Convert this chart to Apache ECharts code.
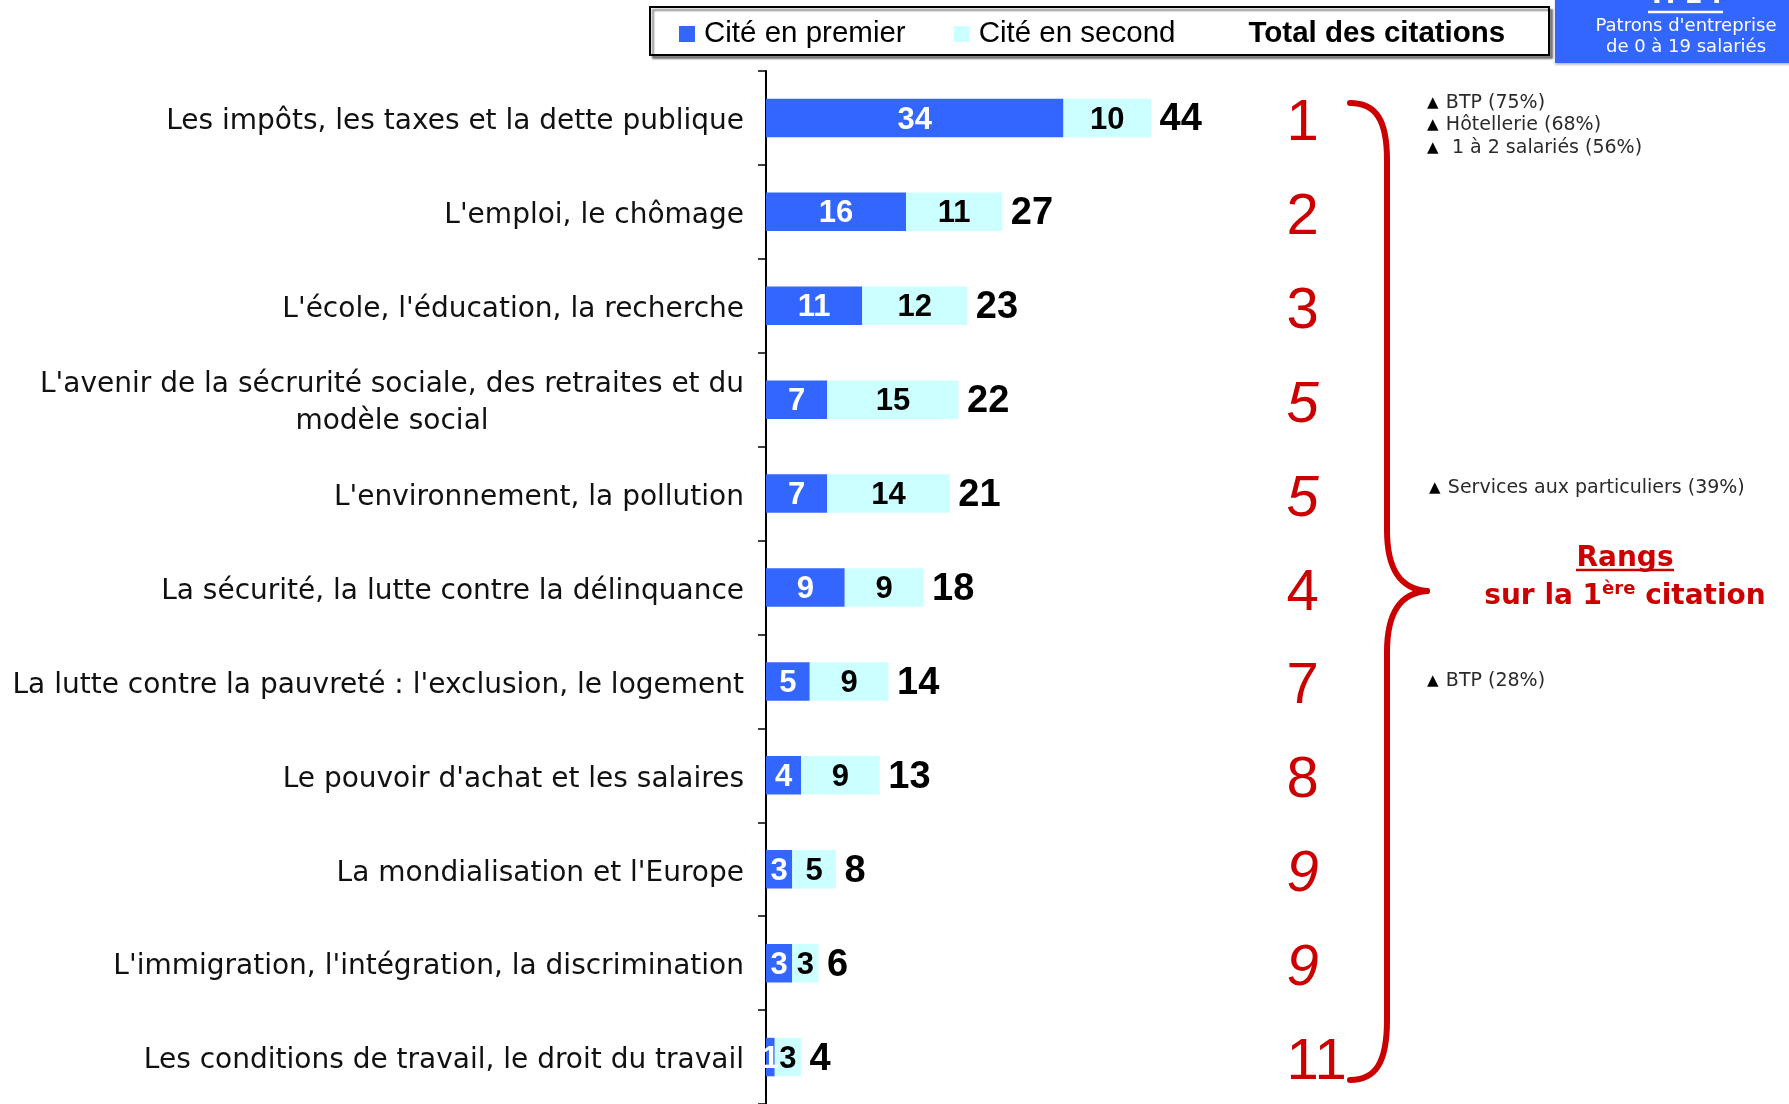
<!DOCTYPE html>
<html>
<head>
<meta charset="utf-8">
<script src="https://cdn.jsdelivr.net/npm/echarts@6/dist/echarts.min.js"></script>
<style>
html,body{margin:0;padding:0;background:#fff;}
#chart{width:1789px;height:1104px;}
</style>
</head>
<body>
<div id="chart"></div>
<script>
const categories = [
  "Les impôts, les taxes et la dette publique",
  "L'emploi, le chômage",
  "L'école, l'éducation, la recherche",
  "L'avenir de la sécrurité sociale, des retraites et du\nmodèle social",
  "L'environnement, la pollution",
  "La sécurité, la lutte contre la délinquance",
  "La lutte contre la pauvreté : l'exclusion, le logement",
  "Le pouvoir d'achat et les salaires",
  "La mondialisation et l'Europe",
  "L'immigration, l'intégration, la discrimination",
  "Les conditions de travail, le droit du travail"
];
const citedFirst  = [34, 16, 11, 7, 7, 9, 5, 4, 3, 3, 1];
const citedSecond = [10, 11, 12, 15, 14, 9, 9, 9, 5, 3, 3];
const totals      = [44, 27, 23, 22, 21, 18, 14, 13, 8, 6, 4];
const ranks       = [1, 2, 3, 5, 5, 4, 7, 8, 9, 9, 11];
const rankItalic  = [false, false, false, true, true, false, false, false, true, true, false];

const legendNames = ["Cité en premier", "Cité en second", "Total des citations"];
const annotTop    = ["BTP (75%)", "Hôtellerie (68%)", " 1 à 2 salariés (56%)"];
const annotMid    = ["Services aux particuliers (39%)"];
const annotLow    = ["BTP (28%)"];
const boxTitle    = "TPE :";
const boxLines    = ["Patrons d'entreprise", "de 0 à 19 salariés"];

const BLUE = '#3366FF', CYAN = '#CCFFFF', RED = '#CC0000';

const chart = echarts.init(document.getElementById('chart'), null, {renderer: 'canvas'});

function annot(lines, x, y0, step) {
  return lines.map((t, i) => ({
    type: 'text', x: x, y: y0 + i * step, z: 10,
    style: {
      text: '{t|▲} {s|' + t + '}',
      textVerticalAlign: 'middle',
      rich: {
        t: {fontSize: 15, fontFamily: 'DejaVu Sans', fill: '#000'},
        s: {fontSize: 19, fontFamily: 'DejaVu Sans', fill: '#2a2a2a', padding: [0, 0, 0, 4]}
      }
    }
  }));
}

const braceStyle = {fill: 'none', stroke: RED, lineWidth: 6, lineCap: 'round'};
const brace = [
  {type: 'bezierCurve', shape: {x1: 1350, y1: 103, cpx1: 1376, cpy1: 103, cpx2: 1387, cpy2: 120, x2: 1387, y2: 160}},
  {type: 'line', shape: {x1: 1387, y1: 160, x2: 1387, y2: 530}},
  {type: 'bezierCurve', shape: {x1: 1387, y1: 530, cpx1: 1387, cpy1: 572, cpx2: 1402, cpy2: 589, x2: 1427, y2: 591}},
  {type: 'bezierCurve', shape: {x1: 1427, y1: 591, cpx1: 1402, cpy1: 593, cpx2: 1387, cpy2: 610, x2: 1387, y2: 652}},
  {type: 'line', shape: {x1: 1387, y1: 652, x2: 1387, y2: 1020}},
  {type: 'bezierCurve', shape: {x1: 1387, y1: 1020, cpx1: 1387, cpy1: 1062, cpx2: 1376, cpy2: 1080, x2: 1350, y2: 1080}}
].map(e => Object.assign(e, {z: 5, style: braceStyle}));

const option = {
  animation: false,
  backgroundColor: '#fff',
  grid: {left: 766, top: 71, width: 507.5, height: 1036.5, containLabel: false},
  legend: {
    left: 679, top: 19, itemGap: 48, itemWidth: 16, itemHeight: 16, padding: 0,
    selectedMode: false,
    textStyle: {fontFamily: 'Liberation Sans', fontSize: 29.5, color: '#000', padding: [0, 0, 0, 4]},
    data: [
      {name: legendNames[0], icon: 'rect'},
      {name: legendNames[1], icon: 'rect'},
      {name: legendNames[2], icon: 'rect', itemStyle: {color: 'rgba(0,0,0,0)'}, textStyle: {fontWeight: 'bold'}}
    ]
  },
  xAxis: {type: 'value', min: 0, max: 58, show: false},
  yAxis: [
    {
      type: 'category', data: categories, inverse: true, position: 'left',
      axisLine: {show: true, lineStyle: {color: '#000', width: 2}},
      axisTick: {show: true, length: 8, lineStyle: {color: '#000', width: 1.5}},
      axisLabel: {
        margin: 22, fontFamily: 'DejaVu Sans', fontSize: 28, color: '#111',
        lineHeight: 37, padding: [8, 0, 0, 0],
        formatter: v => v.split('\n').map(s => '{c|' + s + '}').join('\n'),
        rich: {c: {align: 'center', fontFamily: 'DejaVu Sans', fontSize: 28, color: '#111', lineHeight: 37}}
      }
    },
    {
      type: 'category', data: categories, inverse: true, position: 'right',
      axisLine: {show: false}, axisTick: {show: false},
      axisLabel: {
        margin: 13, align: 'left', padding: [12, 0, 0, 0],
        formatter: (v, i) => (rankItalic[i] ? '{i|' : '{n|') + ranks[i] + '}',
        rich: {
          n: {fontFamily: 'Liberation Sans', fontSize: 58, color: RED},
          i: {fontFamily: 'Liberation Sans', fontSize: 58, fontStyle: 'italic', color: RED}
        }
      }
    }
  ],
  series: [
    {
      name: legendNames[0], type: 'bar', stack: 'a', data: citedFirst, barWidth: 38.5,
      itemStyle: {color: BLUE},
      label: {show: true, position: 'inside', offset: [0, 2], color: '#fff', fontFamily: 'Liberation Sans', fontWeight: 'bold', fontSize: 31}
    },
    {
      name: legendNames[1], type: 'bar', stack: 'a', data: citedSecond, barWidth: 38.5,
      itemStyle: {color: CYAN},
      label: {show: true, position: 'inside', offset: [0, 2], color: '#000', fontFamily: 'Liberation Sans', fontWeight: 'bold', fontSize: 31}
    },
    {
      name: legendNames[2], type: 'scatter', data: totals.map((t, i) => [t, categories[i]]),
      symbol: 'circle', symbolSize: 1, itemStyle: {color: 'rgba(0,0,0,0)', opacity: 1}, silent: true,
      label: {show: true, position: 'right', distance: 8, offset: [0, 2], formatter: p => p.value[0], opacity: 1,
        color: '#000', fontFamily: 'Liberation Sans', fontWeight: 'bold', fontSize: 38}
    }
  ],
  graphic: [
    {type: 'rect', z: -1, shape: {x: 650, y: 7, width: 899, height: 48},
      style: {fill: '#fff', stroke: '#000', lineWidth: 2, shadowColor: 'rgba(0,0,0,0.45)', shadowOffsetX: 3, shadowOffsetY: 3, shadowBlur: 2}},
    {type: 'rect', shape: {x: 1555, y: -4, width: 240, height: 67},
      style: {fill: BLUE, shadowColor: 'rgba(0,0,0,0.25)', shadowOffsetY: 2, shadowBlur: 2}},
    {type: 'text', x: 1685, y: 9, z: 20, style: {text: boxTitle, fill: '#fff', font: 'bold 26px "DejaVu Sans"', textAlign: 'center', textVerticalAlign: 'bottom'}},
    {type: 'line', z: 20, shape: {x1: 1648, y1: 12, x2: 1723, y2: 12}, style: {stroke: '#fff', lineWidth: 2.5}},
    {type: 'text', x: 1686, y: 26, z: 20, style: {text: boxLines[0], fill: '#fff', font: '18px "DejaVu Sans"', textAlign: 'center', textVerticalAlign: 'middle'}},
    {type: 'text', x: 1686, y: 47, z: 20, style: {text: boxLines[1], fill: '#fff', font: '18px "DejaVu Sans"', textAlign: 'center', textVerticalAlign: 'middle'}},
    {type: 'text', x: 1625, y: 559, z: 20, style: {text: 'Rangs', fill: RED, font: 'bold 28px "DejaVu Sans"', textAlign: 'center', textVerticalAlign: 'middle'}},
    {type: 'line', z: 20, shape: {x1: 1576, y1: 570, x2: 1674, y2: 570}, style: {stroke: RED, lineWidth: 2.5}},
    {type: 'text', x: 1625, y: 597, z: 20, style: {
      text: '{b|sur la 1}{s|ère}{b| citation}', textAlign: 'center', textVerticalAlign: 'middle',
      rich: {
        b: {fontFamily: 'DejaVu Sans', fontWeight: 'bold', fontSize: 28, fill: RED, lineHeight: 34},
        s: {fontFamily: 'DejaVu Sans', fontWeight: 'bold', fontSize: 18, fill: RED, verticalAlign: 'top', lineHeight: 34, padding: [0, 0, 14, 0]}
      }}}
  ].concat(brace, annot(annotTop, 1427, 103, 22.5), annot(annotMid, 1429, 488, 22.5), annot(annotLow, 1427, 681, 22.5))
};
chart.setOption(option);
</script>
</body>
</html>
